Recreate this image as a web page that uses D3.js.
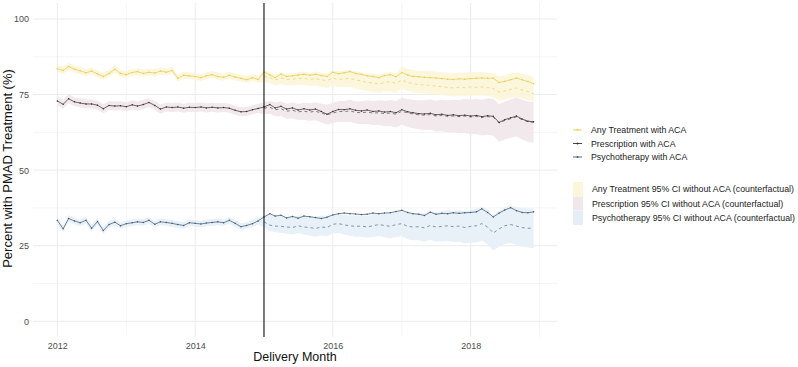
<!DOCTYPE html>
<html><head><meta charset="utf-8">
<script src="https://cdn.jsdelivr.net/npm/d3@7/dist/d3.min.js"></script>
<style>body{margin:0;background:#fff}svg{display:block;font-family:"Liberation Sans",Arial,sans-serif}</style>
</head><body><svg id="c" width="798" height="367"></svg>
<script>
// ---- DATA (monthly, Jan 2012 - Dec 2018) ----
const startYear = 2012, nMonths = 84, policyIndex = 36; // ACA index month = Jan 2015
const yTicks = [0, 25, 50, 75, 100];
const xTicks = [2012, 2014, 2016, 2018];
const seriesNames = ["Any Treatment with ACA", "Prescription with ACA", "Psychotherapy with ACA"];
const ciNames = ["Any Treatment 95% CI without ACA (counterfactual)", "Prescription 95% CI without ACA (counterfactual)", "Psychotherapy 95% CI without ACA (counterfactual)"];

const anyACA = [83.5,83.0,84.3,83.4,82.9,82.2,82.8,81.8,81.0,82.0,83.4,82.0,
 81.6,82.3,82.6,82.0,82.4,82.1,82.8,82.4,83.0,80.4,81.4,81.2,
 81.0,80.6,81.2,81.6,81.0,80.7,81.4,80.8,80.4,79.9,80.6,80.0,
 82.5,81.5,80.6,81.8,81.0,81.2,81.5,81.7,81.4,81.7,81.3,81.0,
 82.4,81.9,82.2,82.6,82.0,81.7,81.2,81.0,80.6,81.3,81.6,80.9,
 82.3,81.5,81.0,80.9,80.7,80.6,80.5,80.3,80.1,80.0,80.2,80.1,
 80.3,80.4,80.5,80.4,80.4,79.0,79.4,79.9,80.5,79.9,79.3,78.6];
const prescACA = [72.9,71.8,73.6,72.6,72.2,71.9,71.9,71.5,70.3,71.4,71.2,71.3,
 71.0,71.6,71.2,71.7,72.4,71.4,70.2,70.9,70.7,70.9,70.5,70.8,
 70.7,70.9,70.6,70.8,70.6,70.7,70.5,69.8,69.3,69.4,70.0,70.4,
 70.9,71.7,70.6,71.1,70.2,70.6,69.9,70.3,69.9,70.2,69.4,68.5,
 69.4,70.1,70.0,70.3,69.8,69.6,69.9,69.4,69.6,69.2,69.4,69.0,
 70.0,69.3,69.0,68.7,68.6,68.8,68.3,68.5,68.1,68.3,68.0,68.2,
 67.9,68.1,67.7,68.0,67.8,65.8,66.7,67.3,67.9,66.9,66.2,66.0];
const psychACA = [33.4,30.6,34.0,33.2,32.6,33.4,30.8,33.0,30.0,32.0,32.8,31.6,
 32.3,32.6,32.9,32.7,33.4,32.1,32.9,32.7,32.4,32.0,31.7,32.6,
 32.4,32.2,32.5,32.7,32.9,32.6,33.4,32.4,31.3,31.7,32.3,33.2,
 34.5,35.6,34.8,35.1,34.2,34.7,34.1,34.8,34.6,34.3,34.0,34.4,
 35.2,35.6,35.8,35.6,35.5,35.3,35.4,35.8,35.6,35.8,35.9,36.3,
 36.7,36.0,35.6,35.4,35.0,36.1,35.4,35.7,35.6,35.9,35.7,35.9,
 36.0,36.2,37.2,36.0,34.5,35.8,36.8,37.6,36.6,36.0,35.9,36.2];

// counterfactual (dashed), Jan 2015 - Dec 2018
const anyCF = [81.0,80.6,79.8,80.5,80.0,80.1,80.3,80.4,80.0,80.3,79.9,79.6,
 80.5,80.0,80.2,80.4,79.8,79.5,79.0,78.9,78.5,79.0,79.3,78.7,
 79.8,79.0,78.6,78.3,78.2,78.0,77.8,77.6,77.4,77.2,77.4,77.3,
 77.5,77.4,77.5,77.3,77.0,75.8,76.2,76.7,77.2,76.5,76.0,75.3];
const prescCF = [70.5,70.8,70.0,70.3,69.5,69.8,69.3,69.5,69.2,69.5,68.9,68.3,
 68.9,69.4,69.4,69.6,69.1,69.0,69.2,68.9,69.0,68.7,68.9,68.5,
 69.5,68.9,68.6,68.3,68.2,68.4,67.9,68.1,67.8,67.9,67.7,67.9,
 67.6,67.8,67.4,67.7,67.5,65.6,66.4,67.0,67.6,66.7,66.0,65.8];
const psychCF = [32.9,31.8,31.5,31.4,31.2,31.0,31.6,31.2,31.0,30.7,31.2,31.0,
 32.1,32.3,31.9,31.6,31.4,31.5,31.2,31.6,32.0,31.7,31.4,32.0,
 32.3,31.4,31.2,31.3,30.9,31.7,31.2,31.4,31.6,31.3,31.5,31.0,
 31.4,31.6,32.3,31.2,29.2,30.6,31.6,32.0,31.5,31.0,30.8,30.7];

// 95% CI bands
const anyLo = [82.4,81.8,83.1,82.2,81.8,81.1,81.7,80.7,79.9,80.9,82.2,80.9,
 80.5,81.2,81.5,80.9,81.3,81.0,81.7,81.3,81.9,79.3,80.3,80.1,
 79.9,79.5,80.1,80.5,79.9,79.6,80.3,79.7,79.3,78.8,79.5,78.9,
 79.2,78.8,78.1,78.6,78.1,78.1,78.2,78.2,77.8,78.0,77.6,77.2,
 77.9,77.4,77.5,77.6,76.9,76.6,76.1,75.9,75.6,75.9,76.1,75.5,
 77.0,76.2,75.8,75.5,75.4,75.2,75.0,74.8,74.6,74.4,74.6,74.5,
 74.7,74.6,74.7,74.5,74.2,73.0,73.4,73.9,74.4,73.7,73.2,72.6];
const anyHi = [84.6,84.2,85.5,84.6,84.1,83.4,84.0,83.0,82.2,83.2,84.6,83.2,
 82.8,83.5,83.7,83.2,83.6,83.3,84.0,83.6,84.2,81.6,82.6,82.4,
 82.2,81.8,82.4,82.8,82.2,81.9,82.6,82.0,81.6,81.1,81.8,81.2,
 82.8,82.5,81.6,82.4,81.9,82.1,82.4,82.6,82.2,82.6,82.2,82.0,
 83.1,82.6,82.9,83.2,82.7,82.4,82.0,82.0,81.6,82.2,82.5,82.0,
 84.2,83.5,83.2,82.9,82.8,82.7,82.6,82.4,82.3,82.1,82.3,82.2,
 82.5,82.4,82.5,82.3,82.1,81.0,81.4,81.9,82.4,81.8,81.4,80.8];
const prescLo = [71.4,70.3,72.1,71.1,70.7,70.4,70.4,70.0,68.8,69.9,69.7,69.8,
 69.5,70.1,69.7,70.2,70.9,69.9,68.7,69.4,69.2,69.4,69.0,69.3,
 69.2,69.4,69.1,69.3,69.1,69.2,69.0,68.3,67.8,67.9,68.5,68.9,
 68.6,68.7,67.8,67.9,67.0,67.2,66.6,66.7,66.3,66.5,65.8,65.1,
 65.6,66.0,65.9,66.0,65.4,65.2,65.3,64.9,64.9,64.5,64.6,64.1,
 65.0,64.3,63.9,63.5,63.3,63.4,62.8,62.9,62.5,62.5,62.2,62.3,
 61.9,62.0,61.5,61.7,61.4,59.4,60.1,60.6,61.1,60.1,59.3,59.1];
const prescHi = [74.4,73.3,75.1,74.1,73.7,73.4,73.4,73.0,71.8,72.9,72.7,72.8,
 72.5,73.1,72.7,73.2,73.9,72.9,71.7,72.4,72.2,72.4,72.0,72.3,
 72.2,72.4,72.1,72.3,72.1,72.2,72.0,71.3,70.8,70.9,71.5,71.9,
 72.5,73.0,72.3,72.7,72.0,72.4,72.0,72.3,72.1,72.5,72.0,71.6,
 72.3,72.9,72.9,73.3,72.8,72.8,73.1,72.9,73.1,72.9,73.2,72.9,
 74.0,73.5,73.3,73.1,73.1,73.4,73.0,73.3,73.1,73.3,73.2,73.5,
 73.3,73.6,73.3,73.7,73.6,71.8,72.7,73.4,74.1,73.3,72.7,72.5];
const psychLo = [32.3,29.5,32.9,32.1,31.5,32.3,29.7,31.9,28.9,30.9,31.7,30.5,
 31.2,31.5,31.8,31.6,32.3,31.0,31.8,31.6,31.3,30.9,30.6,31.5,
 31.3,31.1,31.4,31.6,31.8,31.5,32.3,31.3,30.2,30.6,31.2,32.1,
 31.1,29.9,29.5,29.3,29.0,28.7,29.2,28.7,28.4,28.0,28.4,28.1,
 29.1,29.2,28.7,28.3,28.0,28.0,27.6,27.9,28.2,27.8,27.4,27.9,
 28.1,27.1,26.8,26.8,26.3,27.0,26.4,26.5,26.6,26.2,26.3,25.7,
 26.0,26.1,26.7,25.5,23.4,24.7,25.6,25.9,25.3,24.7,24.4,24.2];
const psychHi = [34.5,31.7,35.1,34.3,33.7,34.5,31.9,34.1,31.1,33.1,33.9,32.7,
 33.4,33.7,34.0,33.8,34.5,33.2,34.0,33.8,33.5,33.1,32.8,33.7,
 33.5,33.3,33.6,33.8,34.0,33.7,34.5,33.5,32.4,32.8,33.4,34.3,
 35.0,35.2,34.8,34.8,34.6,34.5,35.0,34.8,34.7,34.5,35.0,34.9,
 35.2,35.5,35.2,35.0,34.9,35.1,34.9,35.4,35.9,35.7,35.5,36.2,
 36.6,35.8,35.7,35.9,35.6,36.5,36.1,36.4,36.7,36.5,36.8,36.4,
 36.9,37.2,38.0,37.0,35.1,36.6,37.7,38.2,37.8,37.4,37.3,37.3];

// ---- DRAW ----
const svg = d3.select("#c");
const P = {l: 33, r: 557, t: 3, b: 337};
const monthDate = i => new Date(startYear, i, 1);
const x = d3.scaleTime().domain([new Date(2011, 7, 25), new Date(2019, 3, 4)]).range([P.l, P.r]);
const y = d3.scaleLinear().domain([-5.2, 105.3]).range([P.b, P.t]);

const g = svg.append("g");
// minor grid
const yMinor = [12.5, 37.5, 62.5, 87.5];
const xMinor = [2013, 2015, 2017, 2019];
g.selectAll(".ym").data(yMinor).join("line").attr("x1", P.l).attr("x2", P.r)
 .attr("y1", d => y(d)).attr("y2", d => y(d)).attr("stroke", "#f3f3f3").attr("stroke-width", 0.8);
g.selectAll(".xm").data(xMinor).join("line").attr("y1", P.t).attr("y2", P.b)
 .attr("x1", d => x(new Date(d, 0, 1))).attr("x2", d => x(new Date(d, 0, 1))).attr("stroke", "#f3f3f3").attr("stroke-width", 0.8);
// major grid
g.selectAll(".yM").data(yTicks).join("line").attr("x1", P.l).attr("x2", P.r)
 .attr("y1", d => y(d)).attr("y2", d => y(d)).attr("stroke", "#ebebeb").attr("stroke-width", 1);
g.selectAll(".xM").data(xTicks).join("line").attr("y1", P.t).attr("y2", P.b)
 .attr("x1", d => x(new Date(d, 0, 1))).attr("x2", d => x(new Date(d, 0, 1))).attr("stroke", "#ebebeb").attr("stroke-width", 1);

// axes (labels only)
const yAxis = d3.axisLeft(y).tickValues(yTicks).tickSize(0).tickPadding(4);
const ya = svg.append("g").attr("transform", `translate(${P.l},0)`).call(yAxis);
const xAxis = d3.axisBottom(x).tickValues(xTicks.map(d => new Date(d, 0, 1))).tickFormat(d3.timeFormat("%Y")).tickSize(0).tickPadding(6);
const xa = svg.append("g").attr("transform", `translate(0,${P.b})`).call(xAxis);
[ya, xa].forEach(a => { a.select(".domain").remove(); a.selectAll("text").attr("fill", "#4d4d4d").style("font-size", "9px").style("font-family", "Liberation Sans, Arial, sans-serif"); });

const colors = {
  any: {line: "#e4cd4e", fill: "#fcf5d8"},
  presc: {line: "#3a2c34", fill: "#efe7ea"},
  psych: {line: "#3d5872", fill: "#e5eef7"}
};
const groups = [
  {key: "any", act: anyACA, cf: anyCF, lo: anyLo, hi: anyHi},
  {key: "presc", act: prescACA, cf: prescCF, lo: prescLo, hi: prescHi},
  {key: "psych", act: psychACA, cf: psychCF, lo: psychLo, hi: psychHi}
];
const idx = d3.range(nMonths);
const area = (lo, hi) => d3.area().x(i => x(monthDate(i))).y0(i => y(lo[i])).y1(i => y(hi[i]));
groups.forEach(s => {
  svg.append("path").datum(idx).attr("d", area(s.lo, s.hi)).attr("fill", colors[s.key].fill).attr("opacity", 0.9);
});
groups.forEach(s => {
  const c = colors[s.key].line;
  const cfIdx = d3.range(policyIndex, nMonths);
  svg.append("path").datum(cfIdx)
    .attr("d", d3.line().x(i => x(monthDate(i))).y(i => y(s.cf[i - policyIndex])))
    .attr("fill", "none").attr("stroke", c).attr("stroke-width", 0.75).attr("stroke-dasharray", "3,3").attr("opacity", 0.8);
  svg.append("path").datum(idx)
    .attr("d", d3.line().x(i => x(monthDate(i))).y(i => y(s.act[i])))
    .attr("fill", "none").attr("stroke", c).attr("stroke-width", 0.8).attr("opacity", 0.9);
  svg.append("g").selectAll("circle").data(idx).join("circle")
    .attr("cx", i => x(monthDate(i))).attr("cy", i => y(s.act[i])).attr("r", 0.75).attr("fill", c);
});

// policy line
svg.append("line").attr("x1", x(monthDate(policyIndex))).attr("x2", x(monthDate(policyIndex)))
  .attr("y1", P.t).attr("y2", P.b).attr("stroke", "#111").attr("stroke-width", 1.1);

// titles
svg.append("text").attr("x", (P.l + P.r) / 2).attr("y", 361).attr("text-anchor", "middle")
  .style("font-size", "12.5px").attr("fill", "#111").text("Delivery Month");
svg.append("text").attr("transform", `translate(12,168.5) rotate(-90)`).attr("text-anchor", "middle")
  .style("font-size", "13px").attr("fill", "#111").text("Percent with PMAD Treatment (%)");

// legends
const keyList = ["any", "presc", "psych"];
const leg1 = svg.append("g");
seriesNames.forEach((n, k) => {
  const yy = 130 + k * 13.5;
  leg1.append("line").attr("x1", 573).attr("x2", 582).attr("y1", yy).attr("y2", yy).attr("stroke", colors[keyList[k]].line).attr("stroke-width", 0.9);
  leg1.append("circle").attr("cx", 577.5).attr("cy", yy).attr("r", 0.9).attr("fill", colors[keyList[k]].line);
  leg1.append("text").attr("x", 591).attr("y", yy + 3).style("font-size", "8.8px").attr("fill", "#222").text(n);
});
const leg2 = svg.append("g");
ciNames.forEach((n, k) => {
  const yy = 189 + k * 14.5;
  leg2.append("rect").attr("x", 573).attr("y", yy - 7).attr("width", 10).attr("height", 14).attr("fill", colors[keyList[k]].fill);
  leg2.append("text").attr("x", 592).attr("y", yy + 3).style("font-size", "8.8px").attr("fill", "#222").text(n);
});
</script></body></html>
